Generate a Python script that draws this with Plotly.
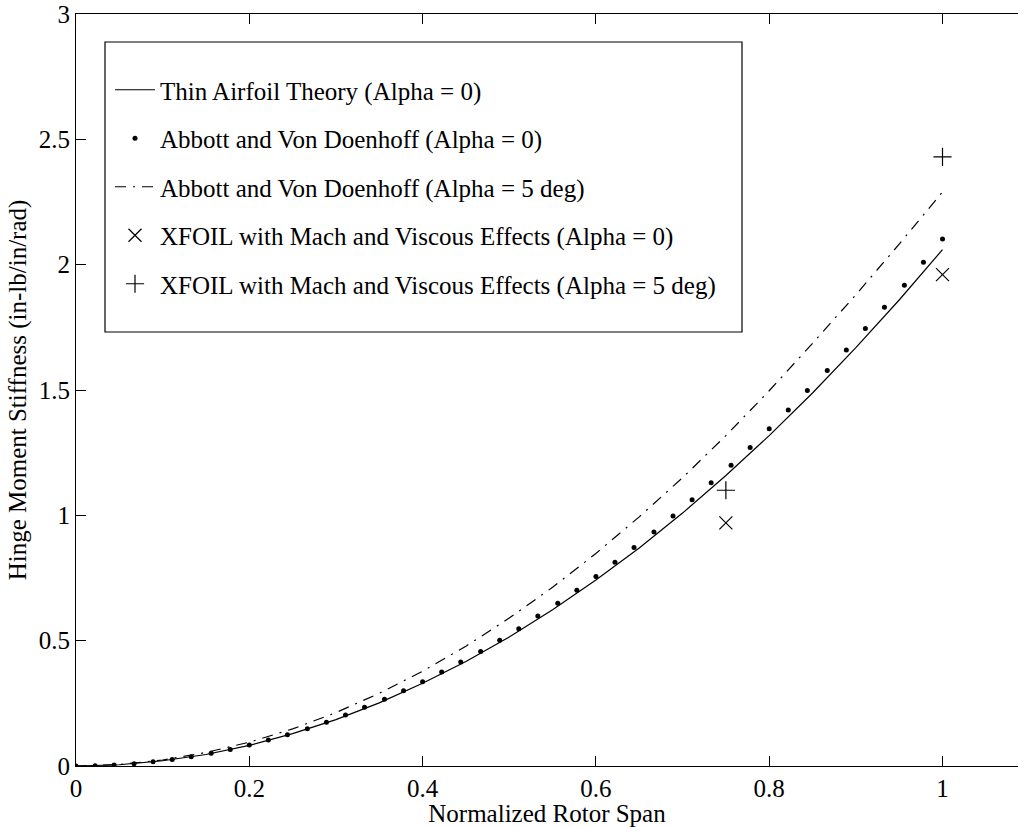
import plotly.graph_objects as go

# ---- data ----
span_line = [0.0, 0.05, 0.1, 0.15, 0.2, 0.25, 0.3, 0.35, 0.4, 0.45, 0.5,
             0.55, 0.6, 0.65, 0.7, 0.75, 0.8, 0.85, 0.9, 0.95, 1.0]
thin_airfoil = [0.0, 0.005, 0.021, 0.046, 0.082, 0.129, 0.185, 0.252, 0.330, 0.417, 0.515,
                0.623, 0.742, 0.870, 1.009, 1.159, 1.318, 1.488, 1.669, 1.859, 2.060]
abbott_a5 = [0.0, 0.006, 0.024, 0.054, 0.095, 0.148, 0.213, 0.290, 0.378, 0.478, 0.590,
             0.713, 0.848, 0.994, 1.150, 1.318, 1.497, 1.686, 1.880, 2.082, 2.290]

span_dots = [0.0, 0.022, 0.044, 0.067, 0.089, 0.111, 0.133, 0.156, 0.178, 0.2,
             0.222, 0.244, 0.267, 0.289, 0.311, 0.333, 0.356, 0.378, 0.4, 0.422,
             0.444, 0.467, 0.489, 0.511, 0.533, 0.556, 0.578, 0.6, 0.622, 0.644,
             0.667, 0.689, 0.711, 0.733, 0.756, 0.778, 0.8, 0.822, 0.844, 0.867,
             0.889, 0.911, 0.933, 0.956, 0.978, 1.0]
abbott_a0 = [0.0, 0.001, 0.004, 0.009, 0.017, 0.026, 0.037, 0.051, 0.066, 0.084,
             0.104, 0.125, 0.149, 0.175, 0.203, 0.234, 0.266, 0.300, 0.336, 0.375,
             0.415, 0.457, 0.502, 0.548, 0.598, 0.649, 0.701, 0.756, 0.813, 0.872,
             0.934, 0.997, 1.062, 1.130, 1.200, 1.271, 1.345, 1.420, 1.498, 1.578,
             1.660, 1.745, 1.830, 1.918, 2.010, 2.102]

span_xfoil = [0.75, 1.0]
xfoil_a0 = [0.97, 1.96]
xfoil_a5 = [1.10, 2.43]

x_ticks = [0, 0.2, 0.4, 0.6, 0.8, 1]
x_tick_labels = ["0", "0.2", "0.4", "0.6", "0.8", "1"]
y_ticks = [0, 0.5, 1, 1.5, 2, 2.5, 3]
y_tick_labels = ["0", "0.5", "1", "1.5", "2", "2.5", "3"]

FONT = "Liberation Serif, Times New Roman, serif"
FS = 25

fig = go.Figure()
fig.add_trace(go.Scatter(x=span_line, y=thin_airfoil, mode="lines",
                         line=dict(color="black", width=1.2),
                         name="Thin Airfoil Theory (Alpha = 0)", legendgroup="a"))
fig.add_trace(go.Scatter(x=span_dots, y=abbott_a0, mode="markers",
                         marker=dict(color="black", size=5, symbol="circle"),
                         name="Abbott and Von Doenhoff (Alpha = 0)", legendgroup="b"))
fig.add_trace(go.Scatter(x=span_line, y=abbott_a5, mode="lines",
                         line=dict(color="black", width=1.2, dash="11px,7px,2px,7px"),
                         name="Abbott and Von Doenhoff (Alpha = 5 deg)", legendgroup="c"))
fig.add_trace(go.Scatter(x=span_xfoil, y=xfoil_a0, mode="markers",
                         marker=dict(color="black", size=13, symbol="x-thin",
                                     line=dict(color="black", width=1.2)),
                         name="XFOIL with Mach and Viscous Effects (Alpha = 0)", legendgroup="d"))
fig.add_trace(go.Scatter(x=span_xfoil, y=xfoil_a5, mode="markers",
                         marker=dict(color="black", size=13, symbol="cross-thin",
                                     line=dict(color="black", width=1.2)),
                         name="XFOIL with Mach and Viscous Effects (Alpha = 5 deg)", legendgroup="e"))

L, T, B = 76, 14, 61
W, H = 1018, 827
pw = W - L
ph = H - T - B

def px_to_paper_x(p):
    return (p - L) / pw

def px_to_paper_y(p):
    return (H - B - p) / ph

fig.add_shape(type="rect", xref="paper", yref="paper",
              x0=px_to_paper_x(105), x1=px_to_paper_x(742),
              y0=px_to_paper_y(332), y1=px_to_paper_y(42),
              line=dict(color="black", width=1.2), fillcolor="white", layer="below")

fig.update_layout(
    width=W, height=H,
    margin=dict(l=L, r=0, t=T, b=B, pad=0),
    paper_bgcolor="white", plot_bgcolor="white",
    font=dict(family=FONT, size=FS, color="black"),
    showlegend=True,
    legend=dict(x=px_to_paper_x(110), y=px_to_paper_y(67), xanchor="left", yanchor="top",
                bgcolor="rgba(0,0,0,0)", borderwidth=0, tracegroupgap=13,
                font=dict(family=FONT, size=FS, color="black"), itemwidth=40),
    xaxis=dict(range=[0, pw / 866.5], tickmode="array", tickvals=x_ticks, ticktext=x_tick_labels,
               ticks="inside", ticklen=10, tickwidth=1, tickcolor="black",
               showline=True, linecolor="black", linewidth=1.2, mirror="ticks",
               showgrid=False, zeroline=False,
               title=dict(text="Normalized Rotor Span", standoff=2,
                          font=dict(family=FONT, size=FS)),
               tickfont=dict(family=FONT, size=FS), automargin=False),
    yaxis=dict(range=[0, 3], tickmode="array", tickvals=y_ticks, ticktext=y_tick_labels,
               ticks="inside", ticklen=10, tickwidth=1, tickcolor="black",
               showline=True, linecolor="black", linewidth=1.2, mirror=False,
               showgrid=False, zeroline=False,
               title=dict(text="Hinge Moment Stiffness (in-lb/in/rad)", standoff=4,
                          font=dict(family=FONT, size=FS)),
               tickfont=dict(family=FONT, size=FS), automargin=False),
)

fig.write_html("out.html")
